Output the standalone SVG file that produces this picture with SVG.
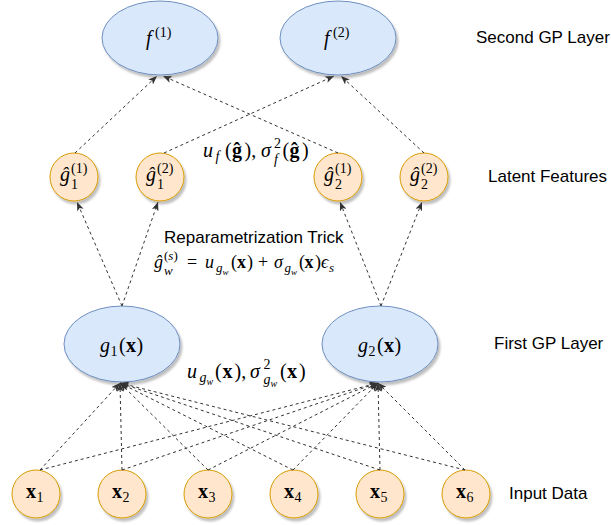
<svg xmlns="http://www.w3.org/2000/svg" width="611" height="525" viewBox="0 0 611 525">
<defs>
<style>
.bg{fill:#ffffff}
.gp{fill:#dae8fc;stroke:#6c8ebf;stroke-width:1;filter:url(#sh)}
.lf{fill:#ffe6cc;stroke:#d79b00;stroke-width:1;filter:url(#sh)}
.e{fill:none;stroke:#333333;stroke-width:1;stroke-dasharray:3 3;marker-end:url(#arr)}
.t{font-family:"Liberation Sans",Arial,sans-serif;font-size:17px;fill:#000000}
.m{font-family:"Liberation Serif","DejaVu Serif",serif;fill:#000000;font-size:20px}
.i{font-style:italic}
.b{font-weight:bold}
.s{font-size:14px}
.ss{font-size:10px}
.m2{font-size:18px}
.s2{font-size:13px}
.ss2{font-size:9px}
</style>
<marker id="arr" viewBox="0 0 10 8" refX="10" refY="4" markerWidth="9" markerHeight="7" orient="auto" markerUnits="userSpaceOnUse">
<path d="M0,0 L10,4 L0,8 L2.5,4 z" fill="#333333"/>
</marker>
<filter id="sh" x="-20%" y="-20%" width="150%" height="150%">
<feDropShadow dx="2" dy="3" stdDeviation="1.2" flood-color="#000000" flood-opacity="0.25"/>
</filter>
</defs>
<rect class="bg" x="0" y="0" width="611" height="525"/>

<g id="f1"><ellipse class="gp" cx="160" cy="38" rx="58" ry="37"/>
<text class="m"><tspan class="i" x="146" y="45">f</tspan><tspan class="s" x="155" y="37">(1)</tspan></text></g>
<g id="f2"><ellipse class="gp" cx="338" cy="38" rx="58" ry="37"/>
<text class="m"><tspan class="i" x="324" y="45">f</tspan><tspan class="s" x="333" y="37">(2)</tspan></text></g>

<g id="gh11"><circle class="lf" cx="74" cy="177" r="24"/>
<text class="m"><tspan class="i" x="60" y="181">ĝ</tspan><tspan class="s" x="71" y="173">(1)</tspan><tspan class="s" x="71" y="189">1</tspan></text></g>
<g id="gh12"><circle class="lf" cx="160" cy="177" r="24"/>
<text class="m"><tspan class="i" x="146" y="181">ĝ</tspan><tspan class="s" x="157" y="173">(2)</tspan><tspan class="s" x="157" y="189">1</tspan></text></g>
<g id="gh21"><circle class="lf" cx="338" cy="177" r="24"/>
<text class="m"><tspan class="i" x="324" y="181">ĝ</tspan><tspan class="s" x="335" y="173">(1)</tspan><tspan class="s" x="335" y="189">2</tspan></text></g>
<g id="gh22"><circle class="lf" cx="424" cy="177" r="24"/>
<text class="m"><tspan class="i" x="410" y="181">ĝ</tspan><tspan class="s" x="421" y="173">(2)</tspan><tspan class="s" x="421" y="189">2</tspan></text></g>

<g id="g1"><ellipse class="gp" cx="122" cy="344" rx="58" ry="38"/>
<text class="m"><tspan class="i" x="100" y="352">g</tspan><tspan class="s" x="110.5" y="356">1</tspan><tspan x="119" y="352">(</tspan><tspan class="b" x="126" y="352">x</tspan><tspan x="136.5" y="352">)</tspan></text></g>
<g id="g2"><ellipse class="gp" cx="380" cy="344" rx="58" ry="38"/>
<text class="m"><tspan class="i" x="358" y="352">g</tspan><tspan class="s" x="368.5" y="356">2</tspan><tspan x="377" y="352">(</tspan><tspan class="b" x="384" y="352">x</tspan><tspan x="394.5" y="352">)</tspan></text></g>

<g id="x1"><circle class="lf" cx="36" cy="494" r="24"/>
<text class="m"><tspan class="b" x="26" y="498">x</tspan><tspan class="s" x="36.5" y="502">1</tspan></text></g>
<g id="x2"><circle class="lf" cx="122" cy="494" r="24"/>
<text class="m"><tspan class="b" x="112" y="498">x</tspan><tspan class="s" x="122.5" y="502">2</tspan></text></g>
<g id="x3"><circle class="lf" cx="208" cy="494" r="24"/>
<text class="m"><tspan class="b" x="198" y="498">x</tspan><tspan class="s" x="208.5" y="502">3</tspan></text></g>
<g id="x4"><circle class="lf" cx="294" cy="494" r="24"/>
<text class="m"><tspan class="b" x="284" y="498">x</tspan><tspan class="s" x="294.5" y="502">4</tspan></text></g>
<g id="x5"><circle class="lf" cx="380" cy="494" r="24"/>
<text class="m"><tspan class="b" x="370" y="498">x</tspan><tspan class="s" x="380.5" y="502">5</tspan></text></g>
<g id="x6"><circle class="lf" cx="466" cy="494" r="24"/>
<text class="m"><tspan class="b" x="456" y="498">x</tspan><tspan class="s" x="466.5" y="502">6</tspan></text></g>

<g id="connectors">
<line class="e" x1="75" y1="153" x2="157" y2="76"/>
<line class="e" x1="164" y1="153" x2="334" y2="76"/>
<line class="e" x1="338" y1="153" x2="163" y2="76"/>
<line class="e" x1="424" y1="153" x2="341" y2="76"/>
<line class="e" x1="122" y1="306" x2="77" y2="202"/>
<line class="e" x1="122" y1="306" x2="158" y2="202"/>
<line class="e" x1="381" y1="306" x2="340" y2="202"/>
<line class="e" x1="381" y1="306" x2="422" y2="202"/>
<line class="e" x1="40" y1="470" x2="120" y2="383"/>
<line class="e" x1="122" y1="470" x2="120" y2="383"/>
<line class="e" x1="208" y1="470" x2="120" y2="383"/>
<line class="e" x1="293" y1="470" x2="120" y2="383"/>
<line class="e" x1="380" y1="470" x2="120" y2="383"/>
<line class="e" x1="465" y1="470" x2="120" y2="383"/>
<line class="e" x1="40" y1="470" x2="378" y2="383"/>
<line class="e" x1="122" y1="470" x2="378" y2="383"/>
<line class="e" x1="208" y1="470" x2="378" y2="383"/>
<line class="e" x1="293" y1="470" x2="378" y2="383"/>
<line class="e" x1="380" y1="470" x2="378" y2="383"/>
<line class="e" x1="465" y1="470" x2="378" y2="383"/>
</g>

<g id="labels">
<text class="t" x="476" y="43">Second GP Layer</text>
<text class="t" x="488" y="182">Latent Features</text>
<text class="t" x="494" y="349">First GP Layer</text>
<text class="t" x="509" y="499">Input Data</text>
<text class="t" x="164" y="243">Reparametrization Trick</text>

<text class="m"><tspan class="i" x="203" y="157">u</tspan><tspan class="i s" x="215.5" y="161">f</tspan><tspan x="225" y="157">(</tspan><tspan class="b" x="232" y="157">ĝ</tspan><tspan x="244.5" y="157">),</tspan><tspan class="i" x="261" y="157">σ</tspan><tspan class="s" x="274" y="148">2</tspan><tspan class="i s" x="274" y="164">f</tspan><tspan x="282.5" y="157">(</tspan><tspan class="b" x="289.5" y="157">ĝ</tspan><tspan x="302" y="157">)</tspan></text>

<text class="m"><tspan class="i" x="187" y="378">u</tspan><tspan class="i s" x="199.5" y="382">g</tspan><tspan class="i ss" x="206.5" y="385">w</tspan><tspan x="215" y="378">(</tspan><tspan class="b" x="222.5" y="378">x</tspan><tspan x="234.5" y="378">),</tspan><tspan class="i" x="250" y="378">σ</tspan><tspan class="s" x="263.5" y="369">2</tspan><tspan class="i s" x="263.5" y="384">g</tspan><tspan class="i ss" x="270.5" y="387">w</tspan><tspan x="280" y="378">(</tspan><tspan class="b" x="287" y="378">x</tspan><tspan x="299" y="378">)</tspan></text>

<text class="m m2"><tspan class="i" x="154" y="268">ĝ</tspan><tspan class="s2" x="164" y="260">(</tspan><tspan class="i s2">s</tspan><tspan class="s2">)</tspan><tspan class="i s2" x="164" y="275">w</tspan><tspan x="187" y="268">=</tspan><tspan class="i" x="205" y="268">u</tspan><tspan class="i s2" x="216" y="272">g</tspan><tspan class="i ss2" x="222.5" y="275">w</tspan><tspan x="231" y="268">(</tspan><tspan class="b" x="237" y="268">x</tspan><tspan x="247" y="268">)</tspan><tspan x="258" y="268">+</tspan><tspan class="i" x="274" y="268">σ</tspan><tspan class="i s2" x="284.5" y="272">g</tspan><tspan class="i ss2" x="291" y="275">w</tspan><tspan x="299" y="268">(</tspan><tspan class="b" x="304.5" y="268">x</tspan><tspan x="315" y="268">)</tspan><tspan class="i" x="321" y="268">ϵ</tspan><tspan class="i s2" x="329" y="272">s</tspan></text>
</g>
</svg>
